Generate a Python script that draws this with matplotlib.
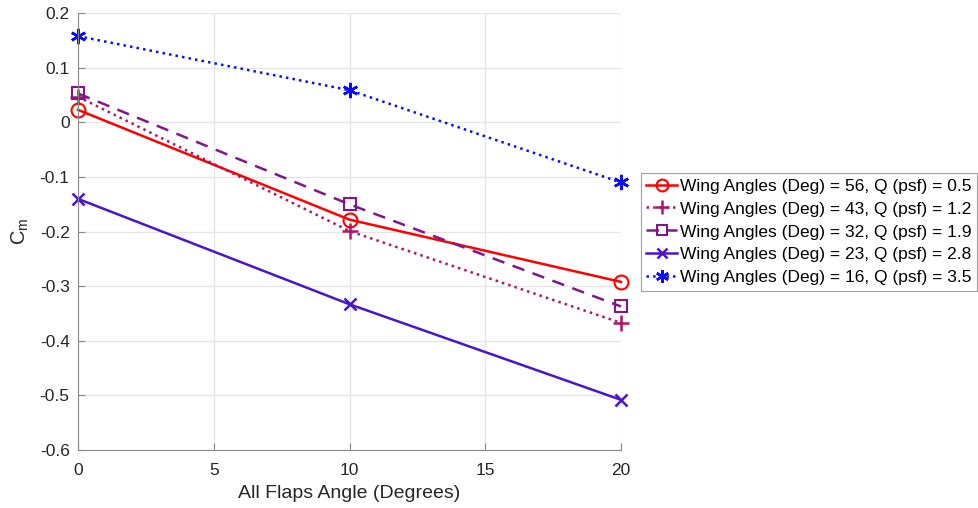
import matplotlib.pyplot as plt
import numpy as np

plt.rcParams['font.family'] = ['Liberation Sans', 'DejaVu Sans']

# flap angles (deg)
flaps = [0, 10, 20]

# Cm values for each wing angle / dynamic pressure case
cm_56 = [0.023, -0.178, -0.292]
cm_43 = [0.047, -0.199, -0.367]
cm_32 = [0.053, -0.150, -0.337]
cm_23 = [-0.140, -0.333, -0.508]
cm_16 = [0.158, 0.059, -0.110]

labels = ['Wing Angles (Deg) = 56, Q (psf) = 0.5',
          'Wing Angles (Deg) = 43, Q (psf) = 1.2',
          'Wing Angles (Deg) = 32, Q (psf) = 1.9',
          'Wing Angles (Deg) = 23, Q (psf) = 2.8',
          'Wing Angles (Deg) = 16, Q (psf) = 3.5']

fig = plt.figure(figsize=(9.79, 5.08), dpi=100)
ax = fig.add_axes([0.0797, 0.114, 0.5546, 0.860])

ax.plot(flaps, cm_56, color='#ff0000', linestyle='-', marker='o', markersize=10,
        markerfacecolor='none', markeredgewidth=1.5, linewidth=1.8, label=labels[0], clip_on=False)
ax.plot(flaps, cm_43, color='#b0146a', linestyle=':', marker='+', markersize=12,
        markeredgewidth=1.8, linewidth=1.8, label=labels[1], clip_on=False)
ax.plot(flaps, cm_32, color='#80168a', linestyle=(0, (5, 3.5)), marker='s', markersize=8,
        markerfacecolor='none', markeredgewidth=1.5, linewidth=1.8, label=labels[2], clip_on=False)
ax.plot(flaps, cm_23, color='#4a14c8', linestyle='-', marker='x', markersize=8,
        markeredgewidth=1.8, linewidth=1.8, label=labels[3], clip_on=False)
ax.plot(flaps, cm_16, color='#0a0aff', linestyle=':', marker=(6, 2, 0), markersize=11,
        markeredgewidth=1.8, linewidth=1.8, label=labels[4], clip_on=False)

ax.set_xlim(0, 20)
ax.set_ylim(-0.6, 0.2)
ax.set_xticks([0, 5, 10, 15, 20])
ax.set_yticks(np.arange(-0.6, 0.21, 0.1))
ax.set_yticklabels(['-0.6', '-0.5', '-0.4', '-0.3', '-0.2', '-0.1', '0', '0.1', '0.2'])
ax.grid(True, color='#e6e6e6', linewidth=1.0)
ax.set_axisbelow(True)
for s in ['top', 'right']:
    ax.spines[s].set_visible(False)
for s in ['left', 'bottom']:
    ax.spines[s].set_color('#8a8a8a')
ax.tick_params(direction='in', length=5, color='#8a8a8a', labelcolor='#262626',
               labelsize=12.5, pad=6)
ax.tick_params(axis='x', pad=9)

ax.set_xlabel('All Flaps Angle (Degrees)', fontsize=14, color='#262626', labelpad=5)
ax.set_ylabel('C$_\\mathregular{m}$', fontsize=14.5, color='#262626', labelpad=6)

leg = fig.legend(loc='upper left', bbox_to_anchor=(0.655, 0.659), fontsize=12.5,
                 frameon=True, fancybox=False, edgecolor='#8a8a8a', handlelength=1.75,
                 handletextpad=0.2, borderpad=0.3, labelspacing=0.45, borderaxespad=0,
                 markerscale=0.85)
leg.get_frame().set_linewidth(0.8)

fig.savefig('out.png', dpi=100)
